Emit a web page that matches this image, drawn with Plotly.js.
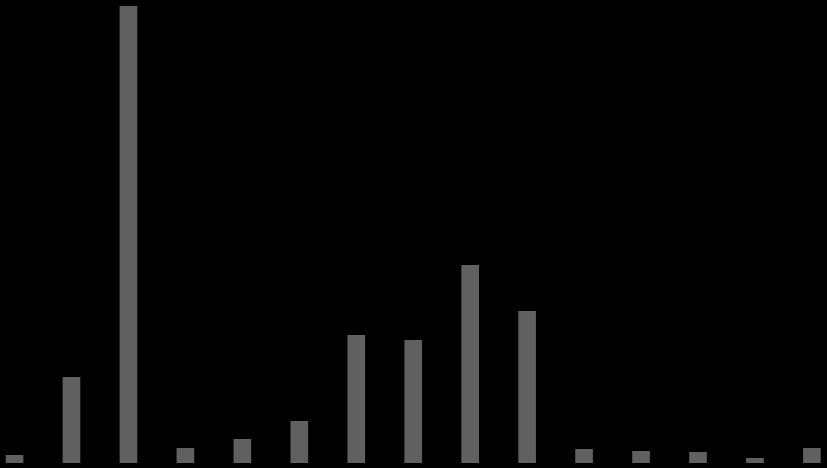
<!DOCTYPE html>
<html>
<head>
<meta charset="utf-8">
<script src="https://cdn.plot.ly/plotly-3.0.1.min.js"></script>
<style>
html,body{margin:0;padding:0;background:#000;}
#chart{width:827px;height:468px;}
</style>
</head>
<body>
<div id="chart"></div>
<script>
var categories = ["1","2","3","4","5","6","7","8","9","10","11","12","13","14","15"];
var values = [8, 86, 457, 15, 24, 42, 128, 123, 198, 152, 14, 12, 11, 5, 15];

var trace = {
  type: "bar",
  x: categories.map(function(c, i){ return i; }),
  y: values,
  marker: {color: "#606060", line: {width: 0}},
  width: 0.31,
  hoverinfo: "none"
};

var layout = {
  width: 827,
  height: 468,
  margin: {l: 0, r: 0, t: 0, b: 0, pad: 0},
  paper_bgcolor: "#000000",
  plot_bgcolor: "#000000",
  showlegend: false,
  xaxis: {range: [-0.255, 14.265], visible: false, showgrid: false, zeroline: false},
  yaxis: {range: [-5, 463], visible: false, showgrid: false, zeroline: false}
};

Plotly.newPlot("chart", [trace], layout, {staticPlot: true, displayModeBar: false});
</script>
</body>
</html>
